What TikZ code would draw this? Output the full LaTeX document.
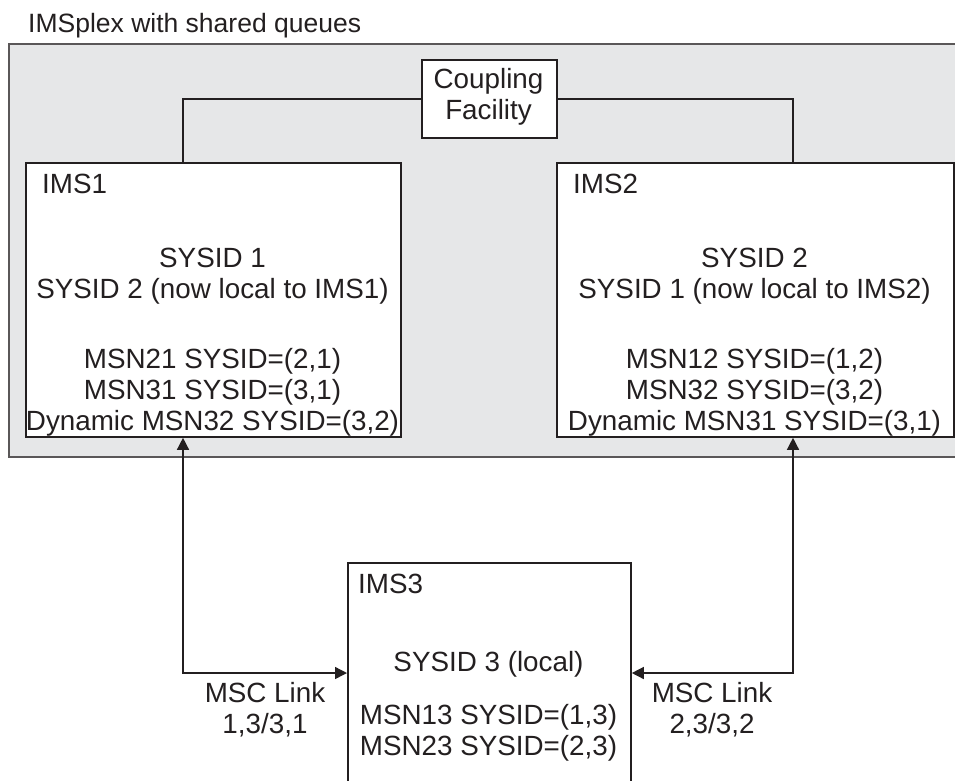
\documentclass[tikz,border=0pt]{standalone}
\usepackage{fontspec}
\setmainfont{Liberation Sans}
\usetikzlibrary{positioning,arrows.meta,calc}
\definecolor{plexgray}{HTML}{E6E7E8}
\definecolor{ink}{HTML}{231F20}

\begin{document}
\begin{tikzpicture}[x=1pt,y=-1pt,>={Triangle[length=12pt,width=12pt]},
  font=\fontsize{27.8}{31}\selectfont,
  plex/.style={draw=ink!75,line width=2pt,fill=plexgray,anchor=north west,inner sep=0pt},
  imsbox/.style={draw=ink,line width=1.8pt,fill=white,anchor=north west,inner sep=0pt},
  txt/.style={inner sep=0pt,text=ink},
  body/.style={txt,align=center,anchor=base},
  link/.style={draw=ink,line width=1.4pt}]
  \useasboundingbox (0,0) rectangle (955,780);
  \clip (0,0) rectangle (955,780);
  % sysplex background and title
  \node[txt,anchor=base west,font=\fontsize{26.5}{30}\selectfont] (title) at (28,32) {IMSplex with shared queues};
  \node[plex,minimum width=960pt,minimum height=413pt] (plex) at (8,43) {};
  % coupling facility (base anchor = last line)
  \node[imsbox,minimum width=135pt,minimum height=78pt] (cf) at (421,59) {};
  \node[body] (cftxt) at (488.5,119) {Coupling\\Facility};
  % the three IMS systems
  \node[imsbox,minimum width=375pt,minimum height=274pt] (ims1) at (25,162) {};
  \node[imsbox,minimum width=397pt,minimum height=274pt] (ims2) at (556,162) {};
  \node[imsbox,minimum width=283pt,minimum height=260pt] (ims3) at (347,562) {};
  \node[txt,anchor=base west] (ims1lbl) at (42,193) {IMS1};
  \node[txt,anchor=base west] (ims2lbl) at (573,193) {IMS2};
  \node[txt,anchor=base west] (ims3lbl) at (358,593) {IMS3};
  \node[body] (ims1txt) at (212.5,430) {SYSID 1\\SYSID 2 (now local to IMS1)\\[39pt]MSN21 SYSID=(2,1)\\MSN31 SYSID=(3,1)\\Dynamic MSN32 SYSID=(3,2)};
  \node[body] (ims2txt) at (754.5,430) {SYSID 2\\SYSID 1 (now local to IMS2)\\[39pt]MSN12 SYSID=(1,2)\\MSN32 SYSID=(3,2)\\Dynamic MSN31 SYSID=(3,1)};
  \node[body] (ims3txt) at (488.5,755) {SYSID 3 (local)\\[22pt]MSN13 SYSID=(1,3)\\MSN23 SYSID=(2,3)};
  % links to the coupling facility
  \coordinate (lx) at (183,673);
  \coordinate (rx) at (793,673);
  \draw[link] (ims1.north -| lx) |- (cf.west);
  \draw[link] (ims2.north -| rx) |- (cf.east);
  % MSC links
  \draw[link,<->] (ims1.south -| lx) |- (ims3.west |- lx);
  \draw[link,<->] (ims2.south -| rx) |- (ims3.east |- rx);
  \node[body] (msc1) at (265,733) {MSC Link\\1,3/3,1};
  \node[body] (msc2) at (712,733) {MSC Link\\2,3/3,2};
\end{tikzpicture}
\end{document}
